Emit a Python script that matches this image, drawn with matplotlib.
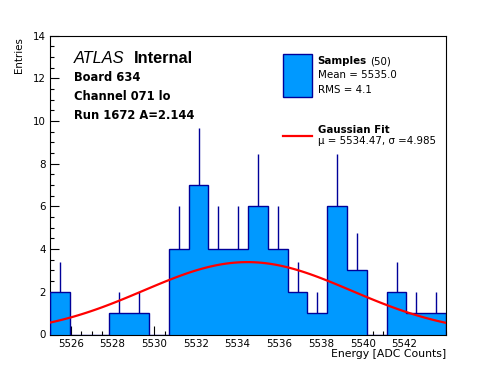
import numpy as np
import matplotlib
matplotlib.use("Agg")
import matplotlib.pyplot as plt
from matplotlib.ticker import MultipleLocator

plt.rcParams['font.family'] = ['DejaVu Sans']

# ---- data ----
bin_low = 5525.0
bin_width = 0.95
counts = [2, 0, 0, 1, 1, 0, 4, 7, 4, 4, 6, 4, 2, 1, 6, 3, 0, 2, 1, 1]
gauss_amp = 3.39
gauss_mu = 5534.47
gauss_sigma = 4.985
x_range = (5525.0, 5544.0)
y_range = (0, 14)
x_ticks = [5526, 5528, 5530, 5532, 5534, 5536, 5538, 5540, 5542]
text_lines = ["Board 634", "Channel 071 lo", "Run 1672 A=2.144"]
n_samples = 50
mean_val = 5535.0
rms_val = 4.1

W, H = 496, 372
fig = plt.figure(figsize=(W / 100, H / 100), dpi=100)
L, R, T, B = 50, 446, 35.5, 334.5
ax = fig.add_axes([L / W, 1 - B / H, (R - L) / W, (B - T) / H])

def px(x, y):
    return x / W, 1 - y / H

fill_c = '#0099ff'
edge_c = '#000099'

counts_a = np.array(counts, dtype=float)
edges = bin_low + bin_width * np.arange(len(counts) + 1)
centers = 0.5 * (edges[:-1] + edges[1:])

ax.stairs(counts_a, edges, fill=True, color=fill_c, zorder=2, linewidth=0)
ax.stairs(counts_a, edges, fill=False, baseline=0, color=edge_c, linewidth=1.0, zorder=3)
err = np.sqrt(counts_a)
mask = counts_a > 0
ax.vlines(centers[mask], counts_a[mask] - err[mask], counts_a[mask] + err[mask],
          color=edge_c, linewidth=1.0, zorder=1)

xs = np.linspace(x_range[0], x_range[1], 100)
ys = gauss_amp * np.exp(-0.5 * ((xs - gauss_mu) / gauss_sigma) ** 2)
ax.plot(xs, ys, color='#ff0000', linewidth=1.6, zorder=4)

ax.set_xlim(*x_range)
ax.set_ylim(*y_range)
ax.set_xticks(x_ticks)
ax.xaxis.set_minor_locator(MultipleLocator(0.5))
ax.yaxis.set_major_locator(MultipleLocator(2))
ax.yaxis.set_minor_locator(MultipleLocator(0.5))
ax.tick_params(which='both', direction='in', top=False, right=False, width=0.8, colors='black')
ax.tick_params(which='major', length=6.3)
ax.tick_params(which='minor', length=3.2)
ax.tick_params(axis='x', which='major', labelsize=7.4, pad=3.5)
ax.tick_params(axis='y', which='major', labelsize=7.4, pad=3)
for s in ax.spines.values():
    s.set_linewidth(0.8)

fig.text(*px(19, 37), "Entries", rotation=90, ha='center', va='top', fontsize=7.4)
fig.text(*px(446, 349), "Energy [ADC Counts]", ha='right', va='top', fontsize=7.8)

# ATLAS label
fig.text(*px(74, 63.3), "ATLAS", style='italic', fontsize=11.8, va='baseline', ha='left',
         family='Liberation Sans')
fig.text(*px(134, 63.3), "Internal", weight='bold', fontsize=11.8, va='baseline', ha='left',
         family='Liberation Sans')
for t, yb in zip(text_lines, [81, 100, 118.7]):
    fig.text(*px(74, yb), t, weight='bold', fontsize=8.3, va='baseline', ha='left')

# legend
leg_ax = fig.add_axes([0, 0, 1, 1], facecolor='none')
leg_ax.set_xlim(0, W)
leg_ax.set_ylim(H, 0)
leg_ax.axis('off')
leg_ax.add_patch(plt.Rectangle((283, 53.5), 29, 43, facecolor=fill_c, edgecolor=edge_c, linewidth=1.0))
leg_ax.plot([283, 312], [136, 136], color='#ff0000', linewidth=1.6)
lf = dict(fontsize=7.4, va='baseline', ha='left')
fig.text(*px(317.5, 64.3), "Samples", weight='bold', **lf)
fig.text(*px(370, 64.3), f"({n_samples})", **lf)
fig.text(*px(317.5, 78.3), f"Mean = {mean_val:.1f}", **lf)
fig.text(*px(317.5, 93), f"RMS = {rms_val:.1f}", **lf)
fig.text(*px(317.5, 132.7), "Gaussian Fit", weight='bold', **lf)
fig.text(*px(317.5, 144.5), f"\u03bc = {gauss_mu:.2f}, \u03c3 ={gauss_sigma:.3f}", **lf)

fig.savefig("out.png", dpi=100)
